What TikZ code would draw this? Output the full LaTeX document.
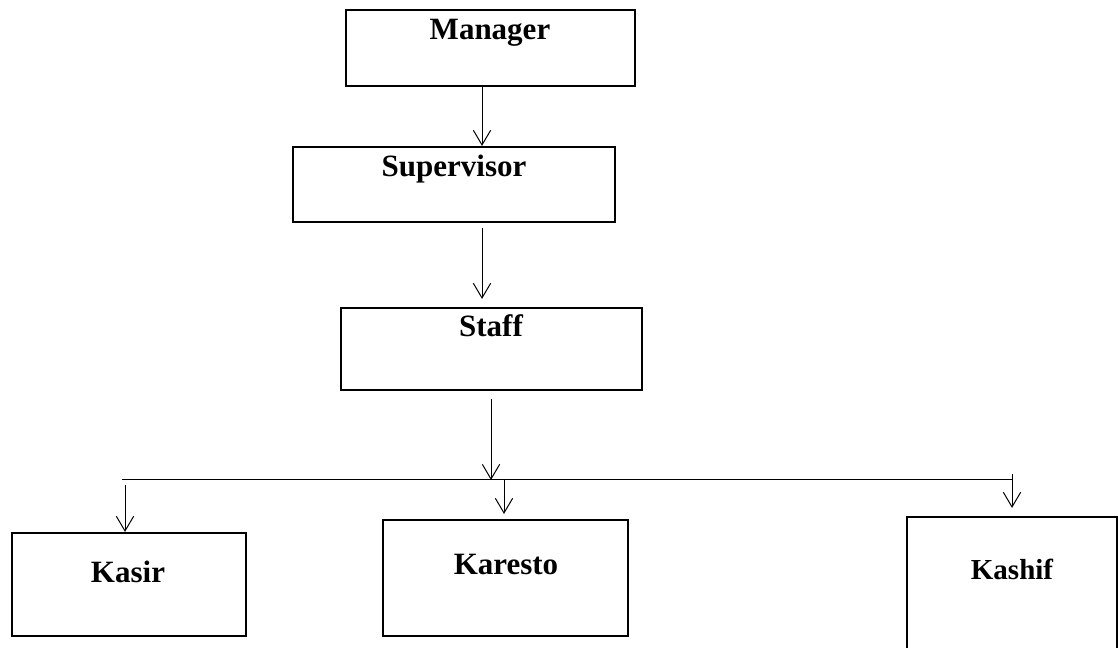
\documentclass[tikz,border=0pt]{standalone}
\usepackage{fontspec}
\setmainfont{Liberation Serif}
\usetikzlibrary{arrows.meta}

\begin{document}
\begin{tikzpicture}[x=0.75pt, y=-0.75pt,
        box/.style={draw, line width=1.6pt, inner sep=0pt},
        lbl/.style={font=\fontsize{23.25}{28}\bfseries\selectfont, anchor=base, inner sep=0pt},
        link/.style={line width=0.75pt},
        arr/.style={link, -{Straight Barb[length=11pt, width=13pt]}}]
        \useasboundingbox (0,0) rectangle (1118,648);
        \clip (0,0) rectangle (1118,648);
        % boxes
        \node[box, minimum width=216.75pt, minimum height=57pt] (mgr) at (490.5, 48) {};
        \node[box, minimum width=241.5pt, minimum height=56.25pt] (sup) at (454, 184.5) {};
        \node[box, minimum width=225.75pt, minimum height=61.5pt] (staff) at (491.5, 349) {};
        \node[box, minimum width=175.5pt, minimum height=77.25pt] (kasir) at (129, 584.5) {};
        \node[box, minimum width=183.75pt, minimum height=87pt] (karesto) at (505.5, 578) {};
        \node[box, minimum width=157.5pt, minimum height=122.25pt] (kashif) at (1012, 598.5) {};
        % texts
        \node[lbl] (mgrtxt) at (490, 40) {Manager};
        \node[lbl] (suptxt) at (454, 177) {Supervisor};
        \node[lbl] (stafftxt) at (491, 337) {Staff};
        \node[lbl] (kasirtxt) at (128, 582) {Kasir};
        \node[lbl] (karestotxt) at (506, 575) {Karesto};
        \node[lbl, font=\fontsize{21.75}{26}\bfseries\selectfont] (kashiftxt) at (1012, 580) {Kashif};
        % connectors
        \coordinate (x1) at (482, 0);
        \coordinate (x2) at (491, 0);
        \coordinate (x3) at (125, 0);
        \coordinate (x4) at (504, 0);
        \coordinate (busL) at (122, 480);
        \coordinate (busR) at (1012, 480);
        \coordinate (tick) at (1012, 474);
        \draw[link] (busL) -- (busR);
        \draw[arr] (mgr.south -| x1) -- (sup.north -| x1);
        \draw[arr, shorten <=3.75pt, shorten >=6pt] (sup.south -| x1) -- (staff.north -| x1);
        \draw[arr, shorten <=6pt] (staff.south -| x2) -- (busL -| x2);
        \draw[arr, shorten <=3.75pt] (busL -| x3) -- (kasir.north -| x3);
        \draw[arr, shorten >=3.75pt] (busL -| x4) -- (karesto.north -| x4);
        \draw[arr, shorten >=6pt] (tick) -- (kashif.north);
\end{tikzpicture}
\end{document}
